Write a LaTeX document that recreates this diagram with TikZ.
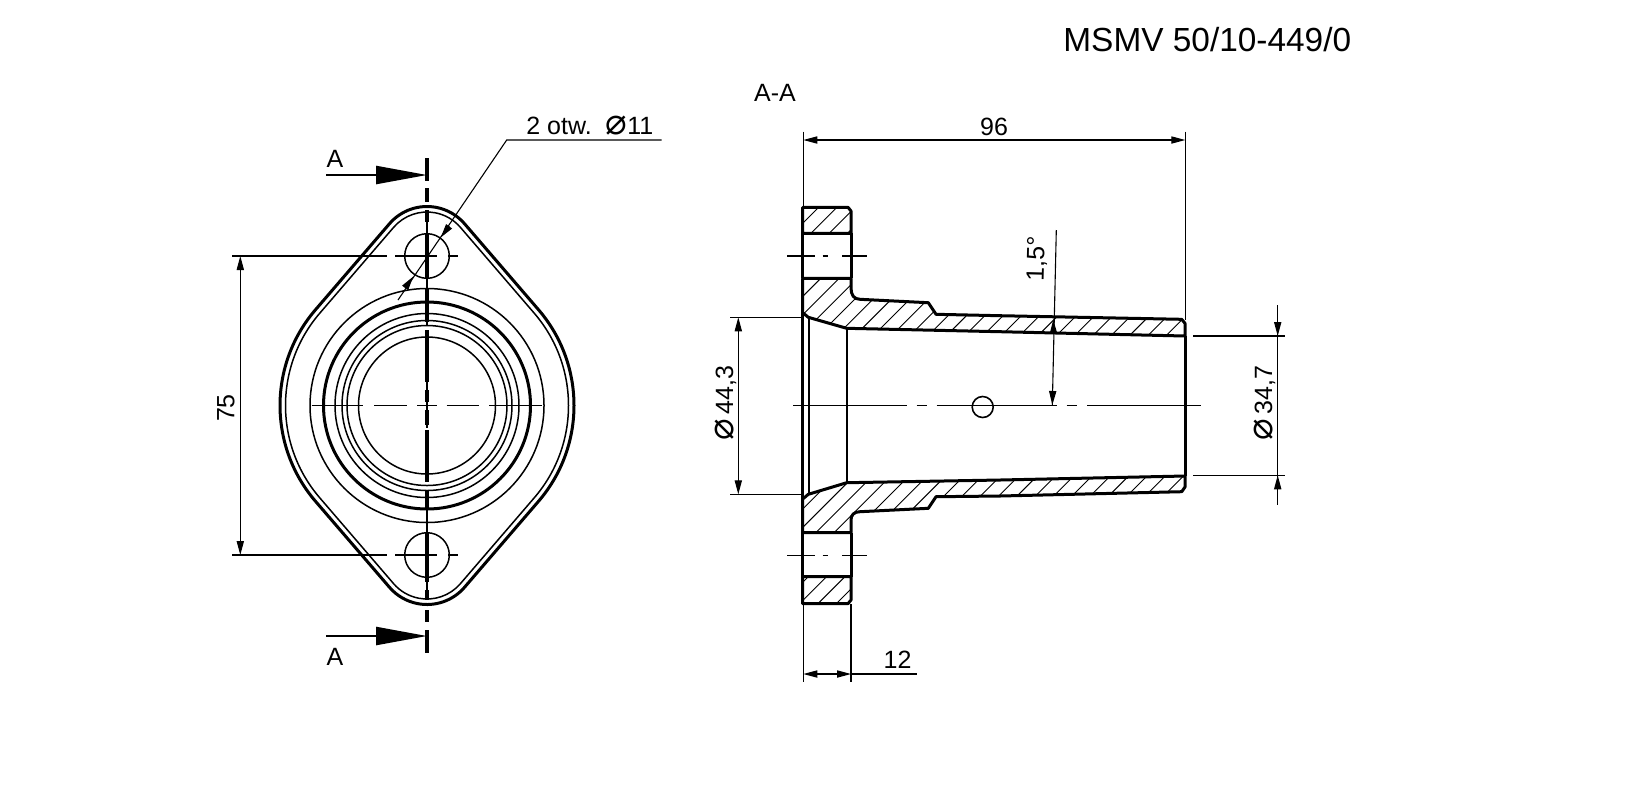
\documentclass[tikz,border=0pt]{standalone}
\usepackage{fontspec}
\setmainfont{Liberation Sans}
\newfontfamily\symfont{DejaVu Sans}
\usetikzlibrary{arrows.meta}
\tikzset{
  contour/.style={line width=1.5pt, line join=round},
  thinline/.style={line width=.75pt},
  dimline/.style={line width=.55pt},
  hatchline/.style={line width=.45pt},
  dimarrow/.style={dimline, {Triangle[length=7pt,width=3.6pt]}-{Triangle[length=7pt,width=3.6pt]}},
  endarrow/.style={dimline, -{Triangle[length=7pt,width=3.6pt]}},
  cutarrow/.style={line width=1.2pt, -{Triangle[length=25.5pt,width=9pt]}},
  dimtext/.style={inner sep=0pt, font=\fontsize{12.5}{14}\selectfont},
  cutseg/.style={line width=1.6pt}
}
\newcommand{\dia}{{\symfont\fontsize{18}{14}\selectfont\char"2300}}
\newcommand{\topring}{(802.7,207.3) -- (848,207.3) -- (851,211) -- (851,233.3) -- (802.7,233.3) -- cycle}
\newcommand{\botring}{(802.7,603.7) -- (848,603.7) -- (851,600) -- (851,576.7) -- (802.7,576.7) -- cycle}
\newcommand{\topbody}{(802.7,278.3) -- (851,278.3) -- (851,288) .. controls (851,295) and (854,299.3) .. (860,299.3) -- (928.3,302.7) -- (936,314.3) -- (1000,315.7) -- (1181.7,319.3) -- (1185,323.3) -- (1185,336) -- (1000,331.7) -- (846.7,328.3) -- (808.3,317.3) -- (802.7,312.7) -- cycle}
\newcommand{\botbody}{(802.7,532.7) -- (851,532.7) -- (851,520) .. controls (851,515) and (854,511.7) .. (860,511.7) -- (928.3,508.3) -- (936,496.7) -- (1000,496) -- (1181.7,491.7) -- (1185,487) -- (1185,476) -- (1000,480) -- (846.7,482.7) -- (808.3,494.3) -- (802.7,499) -- cycle}
\begin{document}
\begin{tikzpicture}[x=.5pt, y=.5pt, yscale=-1]
    \useasboundingbox (0,0) rectangle (1636,799);
    % flange seen from the front
    \foreach \smallr/\bigr/\wd in {49.5/147/1.5pt, 44/141.5/.75pt}
      \draw[line width=\wd, line join=round]
        ([shift={(220.9:\smallr)}]427,256) arc[start angle=220.9, end angle=319.1, radius=\smallr]
        -- ([shift={(319.1:\bigr)}]427,405.5) arc[start angle=319.1, end angle=400.9, radius=\bigr]
        -- ([shift={(40.9:\smallr)}]427,555) arc[start angle=40.9, end angle=139.1, radius=\smallr]
        -- ([shift={(139.1:\bigr)}]427,405.5) arc[start angle=139.1, end angle=220.9, radius=\bigr]
        -- cycle;
    \foreach \ringr in {117,92,85,80,68.5}
      \draw[thinline] (427,405.5) circle[radius=\ringr];
    \draw[line width=1.5pt] (427,405.5) circle[radius=103.5];
    \draw[thinline] (427,256) circle[radius=22.3];
    \draw[thinline] (427,555) circle[radius=22.3];
    % axes of the front view
    \foreach \ya/\yb in {158/181, 188/202, 210/222, 233/278, 288/322, 330/382, 390/402, 410/425, 430/482, 490/510, 532/582, 590/600, 610/622, 630/653}
      \draw[cutseg] (427,\ya) -- (427,\yb);
    \foreach \ya/\yb in {222/233, 278/288, 322/326, 382/390, 402/410, 425/428, 510/532, 582/590}
      \draw[dimline] (427,\ya) -- (427,\yb);
    \foreach \ya/\xa/\xb in {256/232/387, 256/395/437, 256/448/458, 555/232/387, 555/395/437, 555/448/458, 405.3/311.7/363.3, 405.3/374/406.7, 405.3/417.3/436.7, 405.3/446.7/478.7, 405.3/489/541.7}
      \draw[dimline] (\xa,\ya) -- (\xb,\ya);
    % section arrows
    \coordinate (cuttopstart) at (326,175);
    \coordinate (cuttopend) at (427,175);
    \coordinate (cutbotstart) at (326,636);
    \coordinate (cutbotend) at (427,636);
    \draw[cutarrow] (cuttopstart) -- (cuttopend);
    \draw[cutarrow] (cutbotstart) -- (cutbotend);
    \node[dimtext] (cuttoplabel) at (335,158.5) {A};
    \node[dimtext] (cutbotlabel) at (335,657) {A};
    % hole note
    \coordinate (notestart) at (398,300);
    \coordinate (noteknee) at (506.7,140);
    \coordinate (noteend) at (661.7,140);
    \draw[dimline] (notestart) -- (noteknee) -- (noteend);
    \draw[endarrow] (449.3,226) -- (440.7,237.5);
    \draw[endarrow] (405,288) -- (413.3,276.5);
    \node[dimtext, anchor=base west] (holenote) at (526,134.7) {2 otw.\ \ \dia 11};
    % dimension 75
    \coordinate (lena) at (240.3,256);
    \coordinate (lenb) at (240.3,555);
    \draw[dimarrow] (lena) -- (lenb);
    \node[dimtext, rotate=90] (lenlabel) at (226,408) {75};
    % section
    \foreach \clipshape in {\topring, \topbody}
    {
      \begin{scope}
        \clip \clipshape;
        \foreach \hatchno in {-20,...,40}
          \draw[hatchline] ({1337+18.3*\hatchno-150},150) -- ++(-500,500);
      \end{scope}
    }
    \foreach \clipshape in {\botring, \botbody}
    {
      \begin{scope}
        \clip \clipshape;
        \foreach \hatchno in {-20,...,40}
          \draw[hatchline] ({1385+18.3*\hatchno-150},150) -- ++(-600,600);
      \end{scope}
    }
    \draw[contour] \topring;
    \draw[contour] \botring;
    \draw[contour] \topbody;
    \draw[contour] \botbody;
    \draw[contour] (802.7,233.3) -- (802.7,278.3);
    \draw[contour] (851,233.3) -- (851,278.3);
    \draw[contour] (802.7,312.7) -- (802.7,499);
    \draw[contour] (802.7,532.7) -- (802.7,576.7);
    \draw[contour] (851,532.7) -- (851,576.7);
    \draw[contour] (1185,336) -- (1185,476);
    \draw[line width=1pt] (809,317) -- (809,494);
    \draw[line width=1pt] (846.7,328.3) -- (846.7,482.7);
    \draw[line width=.8pt] (982.7,407) circle[radius=10.5];
    \foreach \xa/\xb in {793.3/906.7, 916.7/926.7, 936.7/1056.7, 1066.7/1077.3, 1087.3/1201}
      \draw[dimline] (\xa,405.3) -- (\xb,405.3);
    \foreach \ya in {256,555.3}
      \foreach \xa/\xb in {787.3/815, 822.7/828.3, 842/866.7}
        \draw[dimline] (\xa,\ya) -- (\xb,\ya);
    \node[dimtext] (sectionlabel) at (775,93) {A-A};
    % dimension 96
    \coordinate (wida) at (803.3,140);
    \coordinate (widb) at (1185.3,140);
    \draw[dimline] (803.3,131.7) -- (803.3,207);
    \draw[dimline] (1185.3,131.7) -- (1185.3,320);
    \draw[dimarrow] (wida) -- (widb);
    \node[dimtext, anchor=base] (widlabel) at (994,135) {96};
    % dimension 12
    \coordinate (flangea) at (803.3,674);
    \coordinate (flangeb) at (851,674);
    \coordinate (flangec) at (917.3,674);
    \draw[dimline] (803.3,604) -- (803.3,681.7);
    \draw[dimline] (851,604) -- (851,681.7);
    \draw[dimarrow] (flangea) -- (flangeb);
    \draw[dimline] (flangeb) -- (flangec);
    \node[dimtext, anchor=base] (flangelabel) at (897.5,668) {12};
    % dimension 44,3
    \coordinate (bigdiaa) at (738.3,317.3);
    \coordinate (bigdiab) at (738.3,494.3);
    \draw[dimline] (730,317.3) -- (801,317.3);
    \draw[dimline] (730,494.3) -- (801,494.3);
    \draw[dimarrow] (bigdiaa) -- (bigdiab);
    \node[dimtext, rotate=90, anchor=base] (bigdialabel) at (733,403) {\dia\,44,3};
    % dimension 34,7
    \coordinate (smalldiaa) at (1277.7,305);
    \coordinate (smalldiab) at (1277.7,505);
    \draw[dimline] (1193.3,336) -- (1285,336);
    \draw[dimline] (1193.3,475.3) -- (1285,475.3);
    \draw[dimline] (smalldiaa) -- (smalldiab);
    \draw[endarrow] (1277.7,322) -- (1277.7,336);
    \draw[endarrow] (1277.7,489) -- (1277.7,475.3);
    \node[dimtext, rotate=90, anchor=base] (smalldialabel) at (1272,403) {\dia\,34,7};
    % angle 1,5
    \coordinate (anglea) at (1056.3,230);
    \coordinate (angleb) at (1052.3,405);
    \draw[dimline] (anglea) -- (angleb);
    \draw[endarrow] (1053.5,333) -- (1053.2,319.5);
    \draw[endarrow] (1052.7,391) -- (1052.3,405);
    \node[dimtext, rotate=88.5] (anglelabel) at (1037,259) {1,5°};
    % drawing number
    \node[inner sep=0pt, anchor=base west, font=\fontsize{16.7}{18}\selectfont] (drawingno) at (1063,51.7) {MSMV 50/10-449/0};
\end{tikzpicture}
\end{document}
